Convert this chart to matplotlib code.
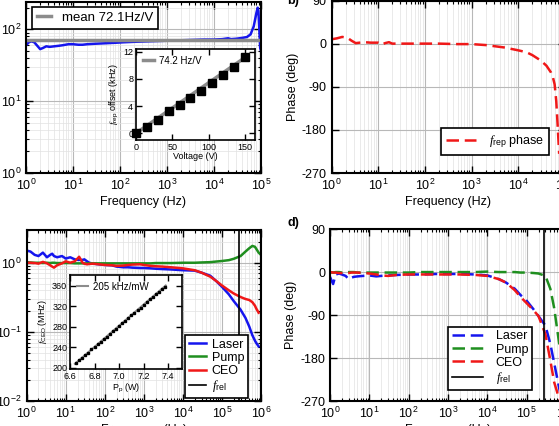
import matplotlib
matplotlib.use('Agg')
import matplotlib.pyplot as plt
from matplotlib.ticker import LogLocator, NullFormatter

plt.rcParams['font.family'] = ['Liberation Sans', 'DejaVu Sans']
plt.rcParams['font.size'] = 9
plt.rcParams['axes.unicode_minus'] = False
plt.rcParams['mathtext.fontset'] = 'custom'
plt.rcParams['mathtext.rm'] = 'Liberation Sans'
plt.rcParams['mathtext.it'] = 'Liberation Serif:italic'
plt.rcParams['mathtext.bf'] = 'Liberation Sans:bold'

# ---- data ----
# a) f_rep response (Hz/V)
freq_a = [1.0, 1.15, 1.3, 1.5, 1.7, 2.0, 2.3, 2.7, 3.2, 4, 5, 6, 8, 10, 13, 16, 20, 30, 50, 80,
          120, 200, 400, 800, 1500, 3000, 6000, 1.0e4, 1.5e4, 2.0e4, 2.3e4, 3.0e4, 4.0e4,
          5.0e4, 6.0e4, 7.0e4, 8.0e4, 8.5e4, 8.8e4, 9.2e4, 9.6e4, 1.0e5]
resp_a = [60, 66, 68, 66, 60, 53, 55, 58, 57, 58, 59, 60, 62, 62, 61, 61, 62, 63, 64, 65,
          66, 67, 68, 69, 70, 71, 72, 72, 73, 75, 73, 74, 76,
          78, 85, 110, 170, 200, 180, 100, 55, 50]
mean_a = 72.1

# a) inset: f_rep offset vs voltage
volt = [0, 15, 30, 45, 60, 75, 90, 105, 120, 135, 150]
frep_off = [0.0, 0.88, 2.0, 3.2, 4.1, 5.16, 6.24, 7.37, 8.55, 9.73, 11.16]
fit_volt = [0, 153]
fit_frep = [0.0, 11.35]

# b) f_rep phase
freq_b = [1, 1.3, 1.7, 2.2, 2.7, 3.3, 4, 5, 7, 10, 12, 14, 17, 20, 30, 50, 100, 200, 500,
          1000, 2000, 5000, 1e4, 1.5e4, 2e4, 3e4, 4e4, 5e4, 5.5e4, 6e4, 6.5e4, 7e4, 7.5e4]
phase_b = [9, 11, 14, 12, 6, 1, 2, 3, 2, 2, -2, 1, 3, 0, 0, 0, 0, 0, -1,
           -1, -3, -8, -14, -18, -24, -35, -46, -60, -70, -85, -120, -175, -230]

# c) normalised amplitude responses
freq_c = [1, 1.25, 1.6, 2, 2.6, 3.3, 4, 4.5, 5, 6, 8, 10, 13, 17, 20, 22, 27, 30, 35, 40,
          50, 70, 100, 150, 200, 300, 400, 500, 800, 1000, 1500, 2000, 3000, 5000,
          1e4, 2e4, 3e4, 5e4, 7e4, 1e5, 1.5e5, 2e5, 3e5, 4e5, 5e5, 6e5, 7e5, 7.5e5, 8.7e5]
laser_c = [1.5, 1.45, 1.3, 1.25, 1.4, 1.2, 1.3, 1.35, 1.25, 1.2, 1.25, 1.15, 1.2, 1.12, 1.1, 1.1, 1.1, 1.12, 1.05, 1.0,
           0.97, 0.95, 0.93, 0.92, 0.88, 0.86, 0.86, 0.85, 0.84, 0.84, 0.83, 0.82, 0.81, 0.8,
           0.78, 0.77, 0.72, 0.65, 0.55, 0.45, 0.35, 0.28, 0.21, 0.16, 0.12, 0.09, 0.075, 0.07, 0.062]
pump_c = [1.02, 1.01, 1.0, 1.0, 0.99, 1.0, 0.99, 1.0, 1.0, 0.99, 0.99, 0.99, 0.99, 0.98, 0.98, 0.98, 0.98, 0.98, 0.98, 0.98,
          0.98, 0.98, 0.98, 0.98, 0.98, 0.98, 0.98, 0.98, 0.98, 0.98, 0.98, 0.99, 0.99, 0.99,
          1.0, 1.0, 1.01, 1.02, 1.04, 1.06, 1.09, 1.14, 1.25, 1.45, 1.62, 1.75, 1.7, 1.6, 1.4]
ceo_c = [1.0, 1.0, 0.99, 0.97, 1.03, 0.98, 0.92, 0.88, 0.85, 0.92, 0.98, 1.05, 1.0, 1.05, 1.15, 1.22, 1.0, 0.97, 0.95, 0.96,
         0.97, 0.95, 0.93, 0.92, 0.9, 0.91, 0.93, 0.94, 0.95, 0.93, 0.9, 0.89, 0.88, 0.86,
         0.83, 0.78, 0.72, 0.63, 0.55, 0.47, 0.4, 0.36, 0.32, 0.3, 0.29, 0.27, 0.24, 0.22, 0.19]
pump_end_f = [8.7e5, 1e6]
pump_end_v = [1.4, 1.3]
f_rel = 2.8e5

# c) inset: f_CEO vs pump power
pump_p = [6.65, 6.675, 6.70, 6.725, 6.75, 6.775, 6.80, 6.825, 6.85, 6.875, 6.90, 6.925, 6.95, 6.975, 7.00,
          7.025, 7.05, 7.075, 7.10, 7.125, 7.15, 7.175, 7.20, 7.225, 7.25, 7.275, 7.30, 7.325, 7.35, 7.375]
fceo = [210, 215, 220, 225, 230, 236, 241, 246, 251, 256, 261, 266, 271, 276, 282,
        287, 292, 297, 302, 307, 312, 317, 323, 328, 333, 338, 343, 348, 353, 358]
fit_p = [6.64, 7.38]
fit_fceo = [208, 360]

# d) phase responses
freq_d = [1, 1.2, 1.4, 1.7, 2, 2.5, 3, 3.5, 4, 5, 7, 10, 15, 20, 30, 50, 100, 200, 500, 1000,
          2000, 5000, 1e4, 2e4, 3e4, 5e4, 7e4, 1e5, 1.5e5, 2e5, 3e5, 4e5, 5e5, 7e5]
laser_d = [-10, -25, -5, -3, -5, -8, -15, -12, -10, -9, -8, -7, -9, -8, -7, -6, -5, -5, -4, -4,
           -4, -5, -7, -15, -22, -35, -48, -60, -78, -92, -112, -150, -190, -250]
pump_d = [0, -1, 0, 0, -1, -1, 0, 0, 0, -1, -1, -1, -1, -1, -1, -1, -1, 0, 0, 0,
          0, 0, 1, 0, 0, 0, -1, -1, -2, -3, -8, -35, -75, -160]
ceo_d = [0, -1, -1, -2, -2, -2, -2, -1, -1, -1, -2, -3, -5, -7, -8, -6, -5, -5, -5, -5,
         -5, -6, -8, -15, -22, -38, -52, -65, -80, -92, -130, -185, -230, -270]

BLUE = '#1515ee'
GREEN = '#1f8f1f'
RED = '#f01818'
GRAY = '#8c8c8c'

W, H = 559.0, 426.0


def box(l, t, r, b):
    return [l / W, 1 - b / H, (r - l) / W, (b - t) / H]


def style(ax, logy):
    ax.set_xscale('log')
    if logy:
        ax.set_yscale('log')
    ax.xaxis.set_major_locator(LogLocator(base=10, numticks=20))
    ax.xaxis.set_minor_locator(LogLocator(base=10, subs=range(2, 10), numticks=20))
    ax.xaxis.set_minor_formatter(NullFormatter())
    ax.tick_params(which='both', direction='in', top=True, right=True)
    ax.tick_params(which='major', length=5, width=1)
    ax.tick_params(which='minor', length=2.5, width=0.8)
    ax.grid(True, which='major', color='#b8b8b8', lw=0.8)
    ax.grid(True, which='minor', color='#e2e2e2', lw=0.5)
    ax.set_axisbelow(True)
    for s in ax.spines.values():
        s.set_linewidth(1.5)


def style_inset(ax):
    ax.tick_params(which='both', direction='in', top=True, right=True, labelsize=6.5, pad=2)
    ax.tick_params(which='major', length=4, width=1)
    for s in ax.spines.values():
        s.set_linewidth(1.2)


fig = plt.figure(figsize=(5.59, 4.26), dpi=100)

ax_a = fig.add_axes(box(26, 2, 261, 173))
ax_b = fig.add_axes(box(331.5, 0.5, 565, 173))
ax_c = fig.add_axes(box(26.7, 229.7, 261, 401.3))
ax_d = fig.add_axes(box(330, 229, 566, 401.3))

# a)
style(ax_a, True)
ax_a.plot(freq_a, resp_a, color=BLUE, lw=1.8)
ax_a.axhline(mean_a, color=GRAY, lw=2.5, label='mean 72.1Hz/V')
ax_a.set_xlim(1, 1e5)
ax_a.set_ylim(1, 240)
ax_a.set_xlabel('Frequency (Hz)', labelpad=2)
leg = ax_a.legend(loc='upper left', bbox_to_anchor=(0.026, 0.97), borderaxespad=0,
                  fancybox=False, edgecolor='black', framealpha=1, handlelength=1.1,
                  handletextpad=0.8, borderpad=0.35, fontsize=9.5)
leg.get_frame().set_linewidth(1.2)

ins_a = fig.add_axes(box(136, 49, 255, 140))
style_inset(ins_a)
ins_a.plot(fit_volt, fit_frep, color=GRAY, lw=2.5, label='74.2 Hz/V')
ins_a.plot(volt, frep_off, 's', color='black', ms=5.5, clip_on=False, zorder=3)
ins_a.set_xlim(0, 164)
ins_a.set_ylim(-1, 12.4)
ins_a.set_xticks([0, 50, 100, 150])
ins_a.set_yticks([0, 4, 8, 12])
ins_a.set_xlabel('Voltage (V)', fontsize=6.5, labelpad=0)
ins_a.set_ylabel(r'$f_{\rm rep}$ offset (kHz)', fontsize=6.5, labelpad=2)
ins_a.legend(loc='upper left', frameon=False, fontsize=7, handlelength=1.1,
             handletextpad=0.6, borderaxespad=0.3)

# b)
style(ax_b, False)
ax_b.plot(freq_b, phase_b, color=RED, lw=1.8, dashes=(5, 2.3), label=r'$f_{\rm rep}$ phase')
ax_b.set_xlim(1, 1e5)
ax_b.set_ylim(-270, 90)
ax_b.set_yticks([-270, -180, -90, 0, 90])
ax_b.set_xlabel('Frequency (Hz)', labelpad=2)
ax_b.set_ylabel('Phase (deg)', labelpad=2)
leg = ax_b.legend(loc='lower right', bbox_to_anchor=(0.931, 0.104), borderaxespad=0,
                  fancybox=False, edgecolor='black', framealpha=1, handlelength=2.4,
                  handletextpad=1.0, borderpad=0.4)
leg.get_frame().set_linewidth(1.2)

# c)
style(ax_c, True)
ax_c.plot(freq_c, laser_c, color=BLUE, lw=1.8, label='Laser')
ax_c.plot(freq_c + pump_end_f[1:], pump_c + pump_end_v[1:], color=GREEN, lw=1.8, label='Pump')
ax_c.plot(freq_c, ceo_c, color=RED, lw=1.8, label='CEO')
ax_c.axvline(f_rel, color='black', lw=1.2, label=r'$f_{\rm rel}$')
ax_c.set_xlim(1, 1e6)
ax_c.set_ylim(0.01, 3)
ax_c.set_xlabel('Frequency (Hz)', labelpad=2)
leg = ax_c.legend(loc='lower right', bbox_to_anchor=(0.945, 0.019), borderaxespad=0,
                  fancybox=False, edgecolor='black', framealpha=1, handlelength=1.35,
                  handletextpad=0.5, borderpad=0.3, labelspacing=0.1)
leg.get_frame().set_linewidth(1.2)

ins_c = fig.add_axes(box(70, 274.7, 181.7, 369))
style_inset(ins_c)
ins_c.plot(fit_p, fit_fceo, color=GRAY, lw=1.5, label='205 kHz/mW')
ins_c.plot(pump_p, fceo, 's', color='black', ms=1.8, zorder=3)
ins_c.set_xlim(6.6, 7.51)
ins_c.set_ylim(198, 381)
ins_c.set_xticks([6.6, 6.8, 7.0, 7.2, 7.4])
ins_c.set_yticks([200, 240, 280, 320, 360])
ins_c.set_xlabel(r'P$_{\rm p}$ (W)', fontsize=6.5, labelpad=0)
ins_c.set_ylabel(r'$f_{\rm CEO}$ (MHz)', fontsize=6.5, labelpad=2)
ins_c.legend(loc='upper left', frameon=False, fontsize=7, handlelength=1.1,
             handletextpad=0.6, borderaxespad=0.3)

# d)
style(ax_d, False)
ax_d.plot(freq_d, laser_d, color=BLUE, lw=1.8, dashes=(5, 2.3), label='Laser')
ax_d.plot(freq_d, pump_d, color=GREEN, lw=1.8, dashes=(5, 2.3), label='Pump')
ax_d.plot(freq_d, ceo_d, color=RED, lw=1.8, dashes=(5, 2.3), label='CEO')
ax_d.axvline(f_rel, color='black', lw=1.2, label=r'$f_{\rm rel}$')
ax_d.set_xlim(1, 1e6)
ax_d.set_ylim(-270, 90)
ax_d.set_yticks([-270, -180, -90, 0, 90])
ax_d.set_xlabel('Frequency (Hz)', labelpad=2)
ax_d.set_ylabel('Phase (deg)', labelpad=2)
leg = ax_d.legend(loc='lower right', bbox_to_anchor=(0.855, 0.067), borderaxespad=0,
                  fancybox=False, edgecolor='black', framealpha=1, handlelength=2.5,
                  handletextpad=1.0, borderpad=0.3, labelspacing=0.1)
leg.get_frame().set_linewidth(1.2)

fig.text(287 / W, 1 - 4 / H, 'b)', fontweight='bold', fontsize=9, va='baseline')
fig.text(287 / W, 1 - 226 / H, 'd)', fontweight='bold', fontsize=9, va='baseline')

fig.savefig('out.png', dpi=100)
